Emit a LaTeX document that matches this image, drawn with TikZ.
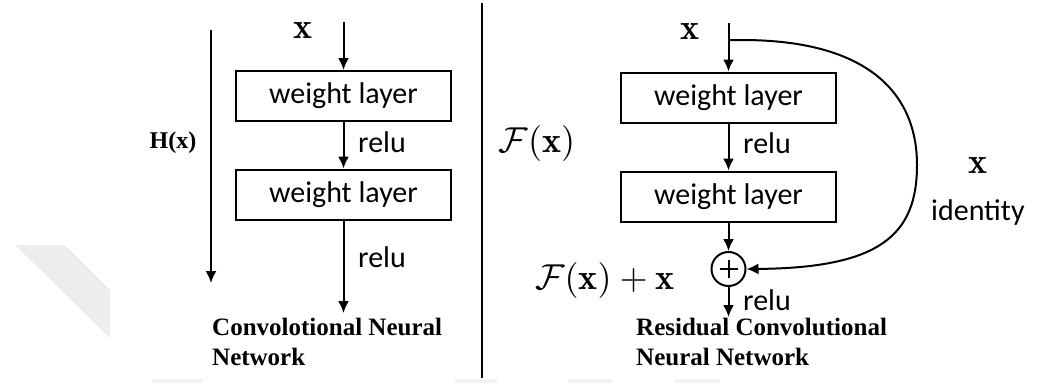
\documentclass[tikz,border=0pt]{standalone}
\usepackage{fontspec}
\usepackage{amsmath}
\usepackage{graphicx}
\newfontfamily\calib{Carlito}
\newfontfamily\tnr{Liberation Serif}
\usetikzlibrary{arrows.meta}
\newcommand{\bigmath}[1]{\scalebox{3.6}{$#1$}}
\tikzset{
  wbox/.style={draw, line width=2pt, minimum width=215pt, minimum height=50pt, inner sep=0pt,
    font=\calib\fontsize{30}{34}\selectfont},
  flow/.style={line width=2pt, -{Latex[length=12pt,width=11pt]}},
  sans/.style={inner sep=0pt, font=\calib\fontsize{30}{34}\selectfont},
  mathlbl/.style={inner sep=0pt},
  caption/.style={inner sep=0pt, align=left, font=\tnr\bfseries\fontsize{25}{30}\selectfont},
  hlabel/.style={inner sep=0pt, font=\tnr\bfseries\fontsize{24}{28}\selectfont},
  plusnode/.style={draw, circle, line width=2pt, minimum size=34pt, inner sep=0pt,
    path picture={\draw[line width=2pt] ([xshift=-9pt]path picture bounding box.center) -- ([xshift=9pt]path picture bounding box.center)
      ([yshift=-9pt]path picture bounding box.center) -- ([yshift=9pt]path picture bounding box.center);}},
  watermark/.style={fill=black!7, draw=none}
}
\begin{document}
\begin{tikzpicture}[x=1pt, y=-1pt]
\useasboundingbox (0,0) rectangle (1037,383);
% faint watermark
\fill[watermark] (15,245) -- (65,245) -- (110,290) -- (110,338) -- cycle;
\fill[black!5] (152,379) rectangle (203,383);
\fill[black!5] (455,379) rectangle (497,383);
\fill[black!5] (568,379) rectangle (612,383);
\fill[black!5] (675,379) rectangle (720,383);

% divider
\coordinate (dtop) at (482,3);
\coordinate (dbot) at (482,378);
\draw[line width=2pt] (dtop) -- (dbot);

% ---------- left: plain CNN ----------
\coordinate (hs) at (211,30);
\coordinate (he) at (211,283);
\draw[flow] (hs) -- (he);
\node[hlabel] (hx) at (173,143) {H(x)};
\node[mathlbl] (lx) at (303,31) {\bigmath{\mathbf{x}}};
\coordinate (lin) at (343.5,22);
\node[wbox] (l1) at (343.5,96) {weight layer};
\node[wbox] (l2) at (343.5,194.5) {weight layer};
\coordinate (lout) at (343.5,313);
\draw[flow] (lin) -- (l1.north);
\draw[flow] (l1.south) -- (l2.north);
\draw[flow] (l2.south) -- (lout);
\node[sans, anchor=base west] (lr1) at (358,152) {relu};
\node[sans, anchor=base west] (lr2) at (358,267) {relu};
\node[caption, anchor=north west] (lcap) at (212,318) {Convolotional Neural\\Network};

% ---------- right: residual ----------
\node[mathlbl] (rx) at (690,32) {\bigmath{\mathbf{x}}};
\node[mathlbl] (fx) at (537,143) {\bigmath{\mathcal{F}(\mathbf{x})}};
\coordinate (rin) at (728.5,23);
\coordinate (rsplit) at (728.5,40);
\node[wbox] (r1) at (728.5,97.5) {weight layer};
\node[wbox] (r2) at (728.5,196.5) {weight layer};
\node[plusnode] (plus) at (728.5,269) {};
\coordinate (rout) at (728.5,317);
\draw[flow] (rin) -- (r1.north);
\draw[flow] (r1.south) -- (r2.north);
\draw[flow] (r2.south) -- (plus.north);
\draw[flow] (plus.south) -- (rout);
\draw[flow] (rsplit) -- (742,40) .. controls (870,40) and (917,95) .. (917,165)
   .. controls (917,235) and (880,268) .. (plus.east);
\node[sans, anchor=base west] (rr1) at (743,153) {relu};
\node[sans, anchor=base west] (rr2) at (743,310) {relu};
\node[mathlbl] (fxx) at (605,280) {\bigmath{\mathcal{F}(\mathbf{x})+\mathbf{x}}};
\node[mathlbl] (idx) at (978,166) {\bigmath{\mathbf{x}}};
\node[sans, anchor=base west] (ident) at (931,220) {identity};
\node[caption, anchor=north west] (rcap) at (636,318) {Residual Convolutional\\Neural Network};
\end{tikzpicture}
\end{document}
